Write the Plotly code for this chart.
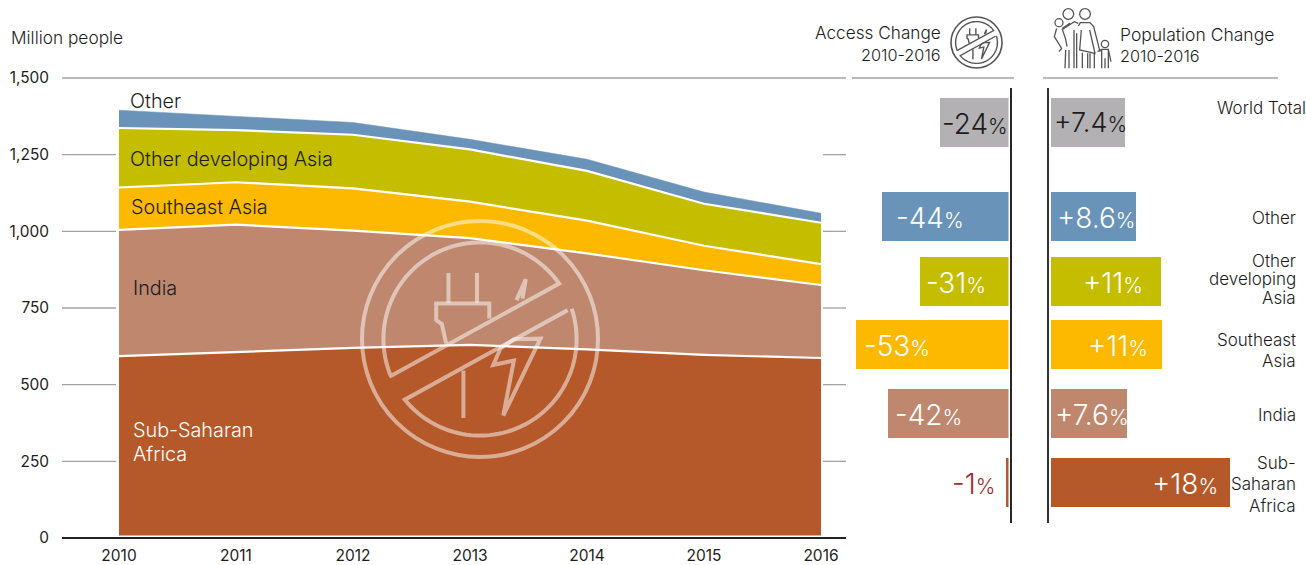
import numpy as np
import plotly.graph_objects as go

# ---------- data ----------
years = [2010, 2011, 2012, 2013, 2014, 2015, 2016]
sub_saharan = [593, 607, 620, 630, 615, 597, 587]
india = [412, 415, 382, 348, 313, 276, 238]
southeast_asia = [138, 138, 138, 119, 107, 80, 68]
other_dev_asia = [194, 170, 175, 170, 162, 137, 135]
other = [58, 45, 40, 33, 38, 38, 31]

categories = [["World Total"], ["Other"], ["Other", "developing", "Asia"], ["Southeast", "Asia"], ["India"],
              ["Sub-", "Saharan", "Africa"]]
access_change = [-24, -44, -31, -53, -42, -1]
population_change = [7.4, 8.6, 11.07, 11.17, 7.6, 18]
access_labels = ["-24", "-44", "-31", "-53", "-42", "-1"]
population_labels = ["+7.4", "+8.6", "+11", "+11", "+7.6", "+18"]
y_ticks = [0, 250, 500, 750, 1000, 1250, 1500]
y_tick_text = ["0", "250", "500", "750", "1,000", "1,250", "1,500"]

# ---------- layout constants ----------
W, H = 1306, 565
FONT = "Inter"
TXT = "#1c1c1c"
C_GREY, C_BLUE, C_OLIVE, C_YEL, C_IND, C_SSA = "#b3b1b3", "#6a93b9", "#c5bd00", "#fdb900", "#bf886e", "#b5592a"
bar_colors = [C_GREY, C_BLUE, C_OLIVE, C_YEL, C_IND, C_SSA]
ROW_Y = [122.5, 216.5, 281.5, 344.5, 413.5, 482.5]
ACCESS_TEXT_X = [942, 896, 926, 864, 895, 952]
POP_TEXT_X = [1054, 1057, 1083, 1088, 1055, 1152]
TEXT_Y = [124, 218, 283, 346, 415, 484]
SIDE_Y = [108, 218, 279, 350, 415, 484]
SIDE_STEP = [0, 0, 18.5, 21, 0, 21.5]
ACCESS_TEXT_COLORS = [TXT, "white", "white", "white", "white", "#a5282a"]
POP_TEXT_COLORS = [TXT, "white", "white", "white", "white", "white"]


def px(x):
    return x / W


def py(y):
    return 1 - y / H


fig = go.Figure()

# ---------- stacked area ----------
stack = [("Sub-Saharan Africa", sub_saharan, C_SSA), ("India", india, C_IND),
         ("Southeast Asia", southeast_asia, C_YEL), ("Other developing Asia", other_dev_asia, C_OLIVE),
         ("Other", other, C_BLUE)]
for name, vals, col in stack:
    is_top = name == "Other"
    fig.add_trace(go.Scatter(x=years, y=vals, name=name, mode="lines", stackgroup="one",
                             fillcolor=col, line=dict(color=col if is_top else "white", width=0.5 if is_top else 2.2),
                             hoverinfo="x+y+name", showlegend=False))

# ---------- bars ----------
fig.add_trace(go.Bar(x=access_change, y=ROW_Y, orientation="h", width=49, xaxis="x2", yaxis="y2",
                     marker=dict(color=bar_colors, line_width=0), showlegend=False))
fig.add_trace(go.Bar(x=population_change, y=ROW_Y, orientation="h", width=49, xaxis="x3", yaxis="y2",
                     marker=dict(color=bar_colors, line_width=0), showlegend=False))

x_per_year = 117.0
access_scale = 2.87
pop_scale = 9.94
fig.update_layout(
    width=W, height=H, autosize=False, margin=dict(l=0, r=0, t=0, b=0, autoexpand=False),
    paper_bgcolor="white", plot_bgcolor="white", bargap=0,
    font=dict(family=FONT, color=TXT, size=15),
    xaxis=dict(domain=[px(62), px(846)], range=[2010 - 57 / x_per_year, 2016 + 25 / x_per_year],
               tickvals=years, showgrid=False, zeroline=False, showline=False, ticks="",
               ticklabelstandoff=6, tickfont=dict(size=15.5, color=TXT), anchor="y"),
    yaxis=dict(domain=[py(538), py(78)], range=[0, 1500], tickvals=y_ticks, ticktext=y_tick_text,
               showgrid=False, zeroline=False, showline=False, ticks="", ticklabelstandoff=12,
               tickfont=dict(size=15.4, color=TXT), anchor="x"),
    xaxis2=dict(domain=[px(852), px(1008.5)], range=[-156.5 / access_scale, 0], visible=False, anchor="y2"),
    xaxis3=dict(domain=[px(1051), px(1240)], range=[0, 189 / pop_scale], visible=False, anchor="y2"),
    yaxis2=dict(domain=[0, 1], range=[H, 0], visible=False, anchor="x2"),
)

shapes = []


def hline(x0, x1, y, color, width, layer="above"):
    shapes.append(dict(type="line", xref="paper", yref="paper", x0=px(x0), x1=px(x1), y0=py(y), y1=py(y),
                       line=dict(color=color, width=width), layer=layer))


def vline(x, y0, y1, color, width):
    shapes.append(dict(type="line", xref="paper", yref="paper", x0=px(x), x1=px(x), y0=py(y0), y1=py(y1),
                       line=dict(color=color, width=width)))


def poly(points, color, width):
    d = "M" + " L".join(f"{px(a):.5f},{py(b):.5f}" for a, b in points)
    shapes.append(dict(type="path", xref="paper", yref="paper", path=d,
                       line=dict(color=color, width=width), fillcolor="rgba(0,0,0,0)"))


def circle(cx, cy, r, color, width):
    shapes.append(dict(type="circle", xref="paper", yref="paper", x0=px(cx - r), x1=px(cx + r),
                       y0=py(cy + r), y1=py(cy - r), line=dict(color=color, width=width)))


# gridlines, broken round the area
for v in y_ticks[1:-1]:
    for a, b in [(62, 116), (823, 846)]:
        shapes.append(dict(type="line", xref="paper", yref="y", x0=px(a), x1=px(b), y0=v, y1=v,
                           line=dict(color="#a3a3a3", width=1.3)))
hline(62, 846, 78, "#777777", 1.2)
hline(119, 821, 537, "white", 3)
hline(62, 846, 538, "#222222", 2)
hline(852, 1014, 78, "#777777", 1.2)
hline(1043, 1278, 78, "#777777", 1.2)
vline(1011, 88, 523, "#2a2627", 2)
vline(1048, 88, 523, "#333333", 2)


def no_power_icon(cx, cy, r, color, w_outer, w_inner):
    """Plug-and-bolt pictogram: r is the outer radius, artwork drawn at r = 118.5."""
    s = r / 118.5
    circle(cx, cy, r, color, w_outer)

    def T(a, b):
        return (cx + (a - 480) * s, cy + (b - 339) * s)

    ri = 97 * s

    def arc(a0, a1):
        angles = np.radians(np.linspace(a0, a1, 60))
        return [(cx + ri * np.cos(t), cy + ri * np.sin(t)) for t in angles]

    # upper arc and chord
    p0, p1 = T(389, 377), T(557, 285)
    a0 = np.degrees(np.arctan2(p0[1] - cy, p0[0] - cx))
    a1 = np.degrees(np.arctan2(p1[1] - cy, p1[0] - cx))
    poly(arc(a0, a1 if a1 > a0 else a1 + 360) + [p0], color, w_inner)
    # lower arc and chord
    p0, p1 = T(568, 310), T(402, 402)
    a0 = np.degrees(np.arctan2(p0[1] - cy, p0[0] - cx))
    a1 = np.degrees(np.arctan2(p1[1] - cy, p1[0] - cx))
    poly(arc(a0, a1 if a1 > a0 else a1 + 360) + [p0], color, w_inner)

    def Z(pts):
        return [T(340 + a / 3, 200 + b / 3) for a, b in pts]

    for seg in ([(325, 218), (325, 308)], [(411, 218), (411, 308)],
                [(448, 355), (448, 310), (288, 310), (288, 360), (305, 372), (318, 430)],
                [(530, 300), (558, 237), (548, 295)], [(370, 512), (370, 655)],
                [(490, 648), (522, 482), (460, 495), (482, 445), (522, 418), (602, 416), (490, 648)]):
        poly(Z(seg), color, w_inner)


no_power_icon(480, 339, 118, "rgba(255,255,255,0.5)", 4, 4)
no_power_icon(976.5, 42.5, 25.5, "#555555", 1.6, 1.4)

# family pictogram (drawn on the 3x crop grid)
ICON = "#555555"


def F(pts):
    poly([(1045 + a / 3, b / 3) for a, b in pts], ICON, 1.3)


for (a, b, r) in [(70, 42, 16), (120, 42, 16), (42, 68, 12), (180, 132, 11)]:
    circle(1045 + a / 3, b / 3, r / 3, ICON, 1.3)
for seg in (
    [(100, 78), (106, 68), (135, 68), (146, 80), (165, 155)],
    [(109, 90), (104, 150), (150, 160), (134, 90)],
    [(112, 158), (112, 205)], [(128, 160), (128, 205)], [(135, 160), (135, 205)], [(148, 160), (148, 205)],
    [(100, 70), (88, 65), (52, 88), (62, 118), (66, 140)],
    [(62, 150), (60, 205)], [(72, 150), (72, 205)], [(87, 90), (87, 205)], [(95, 100), (95, 205)],
    [(35, 85), (28, 110), (50, 145), (42, 155)], [(52, 85), (75, 70)],
    [(158, 155), (170, 148), (190, 148), (198, 185)], [(170, 150), (170, 205)], [(190, 150), (190, 205)],
    [(180, 175), (180, 205)],
):
    F(seg)

fig.update_layout(shapes=shapes)

# ---------- text ----------
ann = []


def text(x, y, s, size=15, color=TXT, anchor="left", align=None, weight=300):
    ann.append(dict(xref="paper", yref="paper", x=px(x), y=py(y), text=s, showarrow=False,
                    xanchor=anchor, yanchor="middle", align=align or anchor, borderpad=0, borderwidth=0,
                    font=dict(size=size, color=color, family=FONT, weight=weight)))


text(11, 37, "Million people", 17.3)
text(130, 101, "Other", 19.8)
text(130, 159, "Other developing Asia", 19.8)
text(131, 207, "Southeast Asia", 19.8)
text(133, 288, "India", 19.8)
text(133, 429.5, "Sub-Saharan", 19.8, "white")
text(133, 453.5, "Africa", 19.8, "white")
text(941, 33, "Access Change", 17.2, anchor="right")
text(941, 55, "2010-2016", 16.3, anchor="right")
text(1120, 34, "Population Change", 17.5)
text(1120, 56, "2010-2016", 16.3)


def pct(label):
    return f'{label}<span style="font-size:21px">%</span>'


for i, lines in enumerate(categories):
    text(ACCESS_TEXT_X[i], TEXT_Y[i], pct(access_labels[i]), 28, ACCESS_TEXT_COLORS[i])
    text(POP_TEXT_X[i], TEXT_Y[i] - (2 if i == 0 else 0), pct(population_labels[i]), 27 if i == 0 else 28,
         POP_TEXT_COLORS[i])
    first = SIDE_Y[i] - SIDE_STEP[i] * (len(lines) - 1) / 2
    for j, line in enumerate(lines):
        text(1306 if i == 0 else 1296, first + j * SIDE_STEP[i], line, 17, anchor="right")

fig.update_layout(annotations=ann)

fig.write_html("out.html", config=dict(displayModeBar=False),
               post_script="document.body.style.margin='0';document.body.style.overflow='hidden';")
